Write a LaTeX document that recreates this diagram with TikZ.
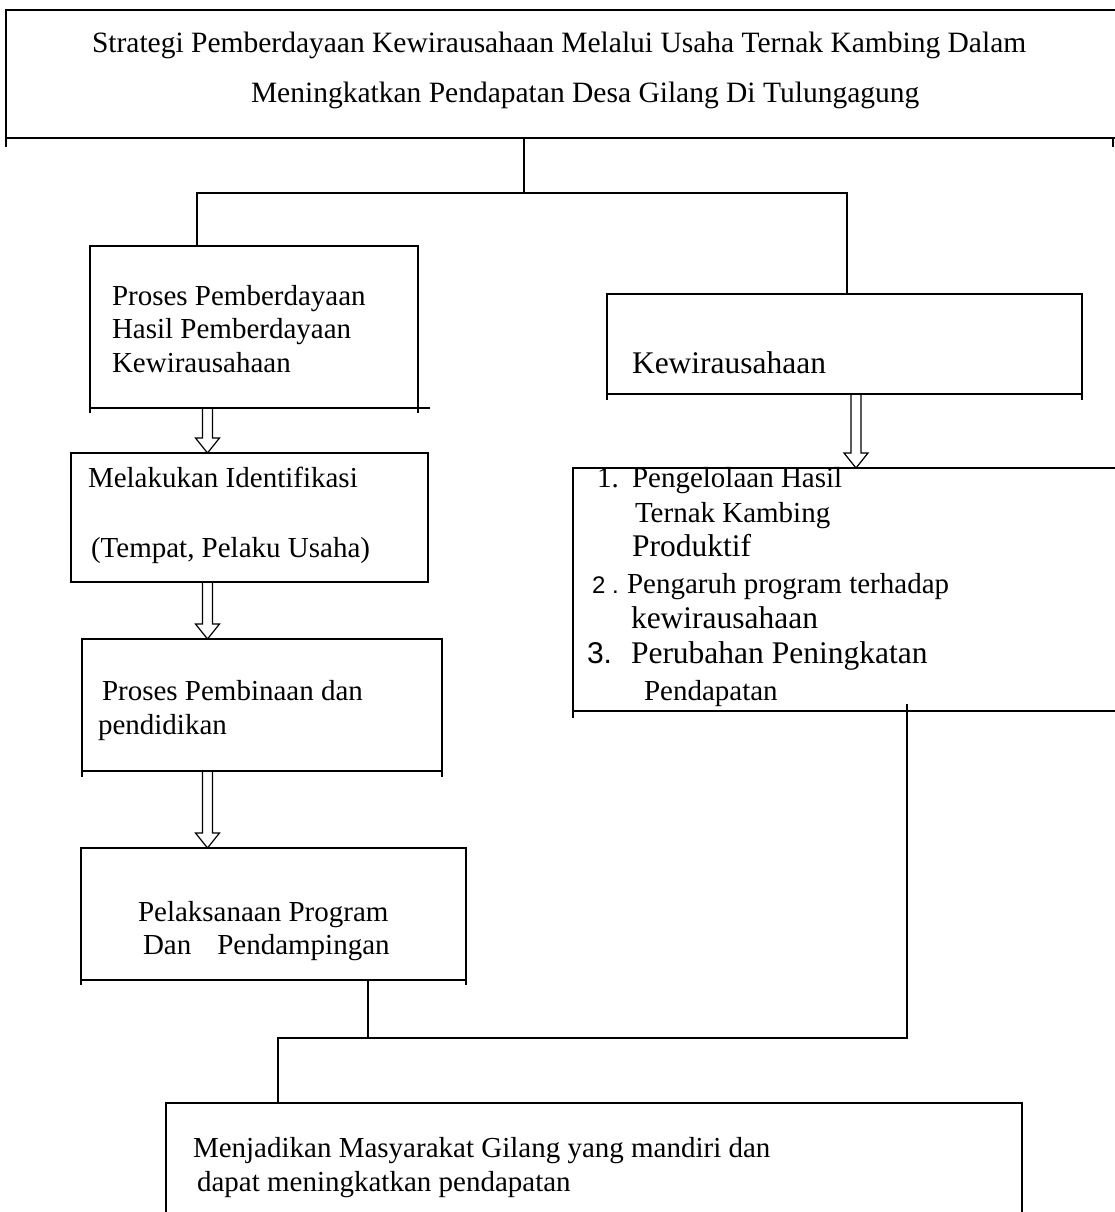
\documentclass[tikz,border=0pt]{standalone}
\usepackage{fontspec}
\setmainfont{Liberation Serif}
\newfontfamily\numsans{Liberation Sans}
\usetikzlibrary{calc}
\tikzset{
  box/.style={draw, line width=1.5pt, inner sep=0pt, outer sep=0pt, anchor=north west},
  txt/.style={anchor=base west, inner sep=0pt, outer sep=0pt, font=\fontsize{29}{33}\selectfont},
  titletxt/.style={txt, font=\fontsize{29.5}{33}\selectfont},
  bigtxt/.style={txt, font=\fontsize{31.5}{36}\selectfont},
  numtxt/.style={txt, font=\numsans\fontsize{24}{28}\selectfont},
  numbig/.style={txt, font=\numsans\fontsize{30}{34}\selectfont},
  conn/.style={line width=1.5pt},
  tick/.style={line width=1.5pt},
  harrow/.style={line width=1.2pt, line join=miter}
}
\newcommand\hollowarrow[2]{%
  \path (#1) coordinate (hA) (#2) coordinate (hB);
  \draw[harrow] ($(hA)+(-5,0)$) -- ($(hB)+(-5,-15)$) -- ($(hB)+(-12,-15)$) -- (hB)
     -- ($(hB)+(12,-15)$) -- ($(hB)+(5,-15)$) -- ($(hA)+(5,0)$);}
\begin{document}
\begin{tikzpicture}[x=1pt,y=-1pt]
\fill[white] (0,0) rectangle (1115,1212);
\useasboundingbox (0,0) rectangle (1115,1212);

% boxes
\node[box, minimum width=1112pt, minimum height=128pt] (title) at (6,10) {};
\node[box, minimum width=328pt, minimum height=162pt] (b1) at (90,246) {};
\node[box, minimum width=357pt, minimum height=129pt] (b2) at (71,453) {};
\node[box, minimum width=360pt, minimum height=132pt] (b3) at (82,639) {};
\node[box, minimum width=385pt, minimum height=132pt] (b4) at (81,848) {};
\node[box, minimum width=475pt, minimum height=100pt] (kw) at (607,294) {};
\node[box, minimum width=560pt, minimum height=243pt] (r2) at (573,468) {};
\node[box, minimum width=856pt, minimum height=150pt] (fin) at (166,1103) {};

% small overhangs of box edges
\draw[tick] (title.south west) -- ++(0,9);
\draw[tick] (1113,138) -- (1113,147);
\draw[tick] (b1.south west) -- ++(0,5);
\draw[tick] (b1.south east) -- ++(0,5);
\draw[tick] (b1.south east) -- ++(12,0);
\draw[tick] (kw.south west) -- ++(0,6);
\draw[tick] (kw.south east) -- ++(0,6);
\draw[tick] (b3.south west) -- ++(0,6);
\draw[tick] (b3.south east) -- ++(0,6);
\draw[tick] (b4.south west) -- ++(0,5);
\draw[tick] (b4.south east) -- ++(0,5);
\draw[tick] (r2.south west) -- ++(0,7);

% texts
\node[titletxt] (t1) at (92,53) {Strategi Pemberdayaan Kewirausahaan Melalui Usaha Ternak Kambing Dalam};
\node[titletxt] (t2) at (251,103) {Meningkatkan Pendapatan Desa Gilang Di Tulungagung};

\node[txt] (b1a) at (112,305) {Proses Pemberdayaan};
\node[txt] (b1b) at (112,338) {Hasil Pemberdayaan};
\node[txt] (b1c) at (112,372) {Kewirausahaan};

\node[txt] (b2a) at (88,487) {Melakukan Identifikasi};
\node[txt] (b2b) at (91,557) {(Tempat, Pelaku Usaha)};

\node[txt] (b3a) at (102,700) {Proses Pembinaan dan};
\node[txt] (b3b) at (98,734) {pendidikan};

\node[txt] (b4a) at (138,921) {Pelaksanaan Program};
\node[txt] (b4b) at (143,954) {Dan\hspace{26pt}Pendampingan};

\node[bigtxt] (kwa) at (632,373) {Kewirausahaan};

\node[txt] (r1n) at (597,487) {1.};
\node[txt] (r1a) at (632,487) {Pengelolaan Hasil};
\node[txt] (r1b) at (635,522) {Ternak Kambing};
\node[bigtxt] (r1c) at (632,556) {Produktif};
\node[numtxt] (r2n) at (592,593) {2 .};
\node[txt] (r2a) at (627,593) {Pengaruh program terhadap};
\node[bigtxt] (r2b) at (631,628) {kewirausahaan};
\node[numbig] (r3n) at (587,663) {3.};
\node[bigtxt] (r3a) at (631,663) {Perubahan Peningkatan};
\node[txt] (r3b) at (644,700) {Pendapatan};

\node[txt] (fa) at (193,1157) {Menjadikan Masyarakat Gilang yang mandiri dan};
\node[txt] (fb) at (197,1191) {dapat meningkatkan pendapatan};

% connectors
\coordinate (jT) at (524,193);
\coordinate (jL) at (197,193);
\coordinate (jR) at (847,193);
\draw[conn] (title.south -| jT) -- (jT);
\draw[conn] (b1.north -| jL) -- (jL) -- (jR) -- (kw.north -| jR);

\coordinate (bA) at (368,1038);
\coordinate (bB) at (907,1038);
\coordinate (bC) at (278,1038);
\coordinate (rS) at (907,704);
\draw[conn] (b4.south -| bA) -- (bA);
\draw[conn] (rS) -- (bB) -- (bC) -- (fin.north -| bC);

% hollow arrows
\coordinate (ax) at (207.5,0);
\coordinate (axr) at (856,0);
\hollowarrow{b1.south -| ax}{b2.north -| ax}
\hollowarrow{b2.south -| ax}{b3.north -| ax}
\hollowarrow{b3.south -| ax}{b4.north -| ax}
\hollowarrow{kw.south -| axr}{r2.north -| axr}
\end{tikzpicture}
\end{document}
